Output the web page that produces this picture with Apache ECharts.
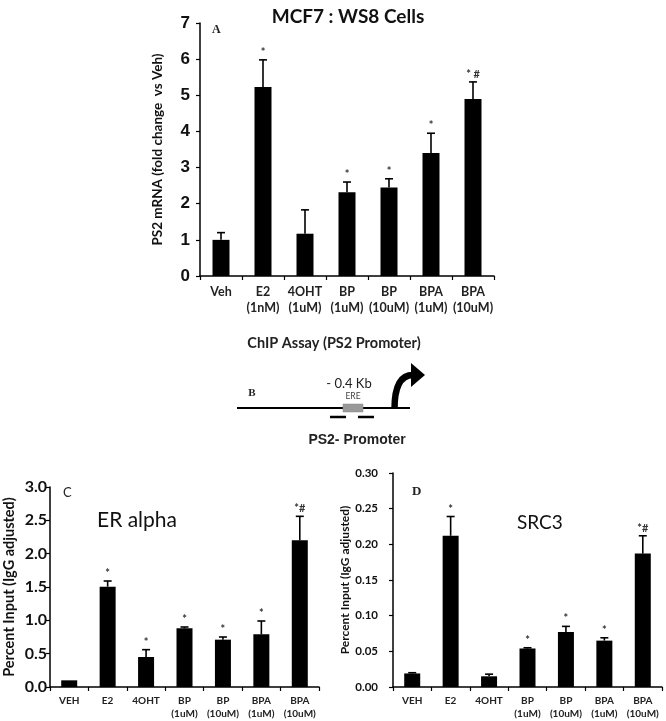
<!DOCTYPE html>
<html><head><meta charset="utf-8">
<script src="https://cdn.jsdelivr.net/npm/echarts@6/dist/echarts.min.js"></script>
<style>html,body{margin:0;padding:0;background:#fff}#c{width:666px;height:721px}</style>
</head><body><div id="c"></div>
<script>
// Panel A: PS2 mRNA
const catsA = ['Veh','E2\n(1nM)','4OHT\n(1uM)','BP\n(1uM)','BP\n(10uM)','BPA\n(1uM)','BPA\n(10uM)'];
const valsA = [1.0, 5.23, 1.17, 2.32, 2.45, 3.4, 4.9];
const errTopA = [1.2, 5.98, 1.83, 2.6, 2.69, 3.95, 5.37];
const sigA = ['', '*', '', '*', '*', '*', '* #'];
const ticksA = {min: 0, max: 7, interval: 1};
// Panels C and D: ChIP
const catsCD = ['VEH','E2','4OHT','BP\n(1uM)','BP\n(10uM)','BPA\n(1uM)','BPA\n(10uM)'];
const valsC = [0.1, 1.505, 0.45, 0.88, 0.71, 0.79, 2.2];
const errTopC = [0.1, 1.59, 0.56, 0.9, 0.75, 0.99, 2.56];
const sigC = ['', '*', '*', '*', '*', '*', '*#'];
const ticksC = {min: 0, max: 3, interval: 0.5};
const valsD = [0.019, 0.212, 0.015, 0.054, 0.077, 0.065, 0.187];
const errTopD = [0.02, 0.239, 0.018, 0.055, 0.085, 0.069, 0.212];
const sigD = ['', '*', '', '*', '*', '*', '*#'];
const ticksD = {min: 0, max: 0.3, interval: 0.05};

const F = 'Lato, "Open Sans", sans-serif';
const chart = echarts.init(document.getElementById('c'));

function errSeries(idx, vals, tops, sigs, cap) {
  return {
    type: 'custom', xAxisIndex: idx, yAxisIndex: idx, z: 5,
    data: vals.map((v, i) => [i, v, tops[i], sigs[i]]),
    renderItem: function (params, api) {
      const b = api.coord([api.value(0), api.value(1)]);
      const t = api.coord([api.value(0), api.value(2)]);
      const children = [];
      if (t[1] < b[1] - 0.5) {
        children.push({type: 'line', shape: {x1: b[0], y1: b[1], x2: t[0], y2: t[1]}, style: {stroke: '#000', lineWidth: 1.6}});
        children.push({type: 'line', shape: {x1: t[0] - cap, y1: t[1], x2: t[0] + cap, y2: t[1]}, style: {stroke: '#000', lineWidth: 1.6}});
      }
      const s = sigs[params.dataIndex];
      if (s) {
        children.push({type: 'text', x: t[0], y: t[1] - 2, style: {text: s, fill: '#333', font: 'bold 11px ' + F, align: 'center', verticalAlign: 'bottom'}});
      }
      return {type: 'group', children: children};
    }
  };
}

function xAx(idx, cats, fs, margin) {
  return {
    type: 'category', gridIndex: idx, data: cats,
    axisLine: {lineStyle: {color: '#000', width: 1.5}},
    axisTick: {show: true, length: 4, lineStyle: {color: '#000', width: 1.2}},
    axisLabel: {interval: 0, color: '#222', fontFamily: F, fontWeight: 'bold', fontSize: fs, lineHeight: fs + 3.5, margin: margin}
  };
}
function yAx(idx, t, name, nameFs, nameGap, labFs, labFamily, labMargin, fmt) {
  return {
    type: 'value', gridIndex: idx, min: t.min, max: t.max, interval: t.interval,
    name: name, nameLocation: 'middle', nameRotate: 90, nameGap: nameGap,
    nameTextStyle: {fontFamily: F, fontWeight: 'bold', fontSize: nameFs, color: '#111'},
    splitLine: {show: false},
    axisLine: {show: true, lineStyle: {color: '#000', width: 1.5}},
    axisTick: {show: true, length: 4, lineStyle: {color: '#000', width: 1.2}},
    axisLabel: {color: '#111', fontFamily: labFamily, fontWeight: 'bold', fontSize: labFs, margin: labMargin, formatter: fmt}
  };
}

const option = {
  animation: false,
  backgroundColor: '#fff',
  title: [
    {text: 'MCF7 : WS8 Cells', left: 343, top: 2, textAlign: 'center', textStyle: {fontFamily: F, fontSize: 19, fontWeight: 'bold', color: '#111'}},
    {text: 'A', left: 207, top: 19, textStyle: {fontFamily: 'Liberation Serif, serif', fontSize: 12, fontWeight: 'bold', color: '#222'}},
    {text: 'ChIP Assay (PS2 Promoter)', left: 329, top: 331, textAlign: 'center', textStyle: {fontFamily: F, fontSize: 14.5, fontWeight: 'bold', color: '#222'}},
    {text: 'C', left: 58, top: 481, textStyle: {fontFamily: F, fontSize: 13, fontWeight: 'normal', color: '#222'}},
    {text: 'ER alpha', left: 92, top: 505, textStyle: {fontFamily: F, fontSize: 21, fontWeight: 'normal', color: '#111'}},
    {text: 'D', left: 407, top: 480, textStyle: {fontFamily: 'Liberation Serif, serif', fontSize: 13, fontWeight: 'bold', color: '#222'}},
    {text: 'SRC3', left: 512, top: 508, textStyle: {fontFamily: F, fontSize: 19, fontWeight: 'normal', color: '#111'}}
  ],
  grid: [
    {left: 200, top: 23, width: 294, height: 253},
    {left: 50, top: 487, width: 269, height: 200},
    {left: 393, top: 473, width: 269, height: 217}
  ],
  xAxis: [xAx(0, catsA, 12.5, 8), xAx(1, catsCD, 10, 7), xAx(2, catsCD, 10, 7)],
  yAxis: [
    yAx(0, ticksA, 'PS2 mRNA (fold change  vs Veh)', 13.5, 35, 17, 'Liberation Sans, Arial, sans-serif', 10, v => String(v)),
    yAx(1, ticksC, 'Percent Input (IgG adjusted)', 14.5, 33, 16, F, 3, v => v.toFixed(1)),
    yAx(2, ticksD, 'Percent Input (IgG adjusted)', 12, 40, 11.5, F, 15, v => v.toFixed(2))
  ],
  series: [
    {type: 'bar', xAxisIndex: 0, yAxisIndex: 0, data: valsA, barWidth: 17, itemStyle: {color: '#000'}},
    errSeries(0, valsA, errTopA, sigA, 4),
    {type: 'bar', xAxisIndex: 1, yAxisIndex: 1, data: valsC, barWidth: 16, itemStyle: {color: '#000'}},
    errSeries(1, valsC, errTopC, sigC, 4),
    {type: 'bar', xAxisIndex: 2, yAxisIndex: 2, data: valsD, barWidth: 16, itemStyle: {color: '#000'}},
    errSeries(2, valsD, errTopD, sigD, 4)
  ],
  graphic: [
    {type: 'line', shape: {x1: 237, y1: 408, x2: 410, y2: 408}, style: {stroke: '#000', lineWidth: 2}},
    {type: 'rect', shape: {x: 343, y: 404, width: 20, height: 8}, style: {fill: '#999', stroke: '#888', lineWidth: 0.5}},
    {type: 'line', shape: {x1: 330, y1: 417, x2: 346, y2: 417}, style: {stroke: '#000', lineWidth: 2.5}},
    {type: 'line', shape: {x1: 358, y1: 417, x2: 374, y2: 417}, style: {stroke: '#000', lineWidth: 2.5}},
    {type: 'text', x: 349, y: 384, style: {text: '- 0.4 Kb', font: '13px ' + F, fill: '#222', align: 'center', verticalAlign: 'middle'}},
    {type: 'text', x: 353, y: 396, style: {text: 'ERE', font: '8.5px ' + F, fill: '#444', align: 'center', verticalAlign: 'middle'}},
    {type: 'text', x: 252, y: 393, style: {text: 'B', font: 'bold 11px "Liberation Serif", serif', fill: '#222', align: 'center', verticalAlign: 'middle'}},
    {type: 'bezierCurve', shape: {x1: 394.5, y1: 409, cpx1: 394.5, cpy1: 375, x2: 413, y2: 375}, style: {stroke: '#000', lineWidth: 6.5, fill: null}},
    {type: 'polygon', shape: {points: [[411, 363], [425, 375], [411, 387]]}, style: {fill: '#000'}},
    {type: 'text', x: 357, y: 440, style: {text: 'PS2- Promoter', font: 'bold 14px "Liberation Sans", Arial, sans-serif', fill: '#222', align: 'center', verticalAlign: 'middle'}}
  ]
};
chart.setOption(option);
</script>
</body></html>
